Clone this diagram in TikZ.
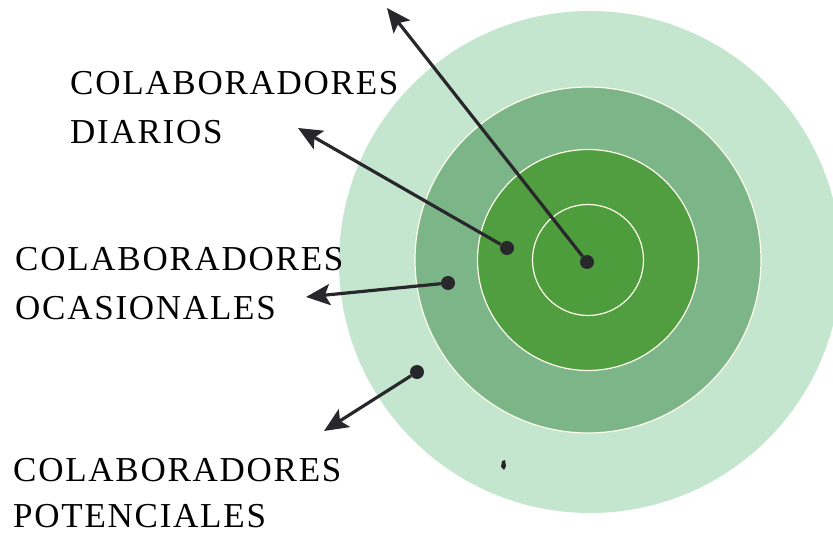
\documentclass[tikz,border=0pt]{standalone}
\usepackage{fontspec}
\setmainfont{Liberation Serif}
\newfontfamily\labelfont[LetterSpace=5]{Liberation Serif}
\usetikzlibrary{arrows.meta}

\definecolor{ringfar}{RGB}{196,230,207}
\definecolor{ringmid}{RGB}{124,181,136}
\definecolor{ringnear}{RGB}{80,158,64}
\definecolor{ringcore}{RGB}{78,157,60}
\definecolor{pointerc}{RGB}{40,40,44}

\tikzset{
  ringline/.style={draw=white!92!yellow,line width=1.2pt},
  dot/.style={circle,fill=pointerc,inner sep=0pt,minimum size=14pt},
  pointer/.style={draw=pointerc,line width=3.2pt,-{Stealth[length=24pt,width=21pt,inset=5pt]}},
  tag/.style={anchor=north west,inner sep=0pt,align=left,
    font=\labelfont\fontsize{35}{49}\selectfont}
}

\begin{document}
\begin{tikzpicture}[x=1pt,y=-1pt]
        \def\cx{588} \def\cy{260}
        \fill[white] (0,0) rectangle (833,534);
        \useasboundingbox (0,0) rectangle (833,534);

        % target rings
        \fill[ringfar] (590,262) circle (251);
        \fill[ringmid,ringline] (\cx,\cy) circle (173);
        \fill[ringnear,ringline] (\cx,\cy) circle (110.5);
        \fill[ringcore,ringline] (\cx,\cy) circle (55.5);

        % speck
        \fill[black!85] (502,461) -- (505,460) -- (506,466) -- (504,470) -- (501,467) -- cycle;

        \node[dot] (daily) at (587,262) {};
        \node[dot] (inner) at (507,248) {};
        \node[dot] (occas) at (448,283) {};
        \node[dot] (poten) at (417,372) {};

        \coordinate (tipA) at (387,8);
        \coordinate (tipB) at (298,128);
        \coordinate (tipC) at (306,297);
        \coordinate (tipD) at (324,431);

        \draw[pointer] (daily) -- (tipA);
        \draw[pointer] (inner) -- (tipB);
        \draw[pointer] (occas) -- (tipC);
        \draw[pointer] (poten) -- (tipD);

        \node[tag] (diarios) at (70,71) {COLABORADORES\\DIARIOS};
        \node[tag] (ocasion) at (15,247) {COLABORADORES\\OCASIONALES};
        \node[tag,font=\labelfont\fontsize{35}{46}\selectfont] (potenc) at (13,458) {COLABORADORES\\POTENCIALES};
\end{tikzpicture}
\end{document}
